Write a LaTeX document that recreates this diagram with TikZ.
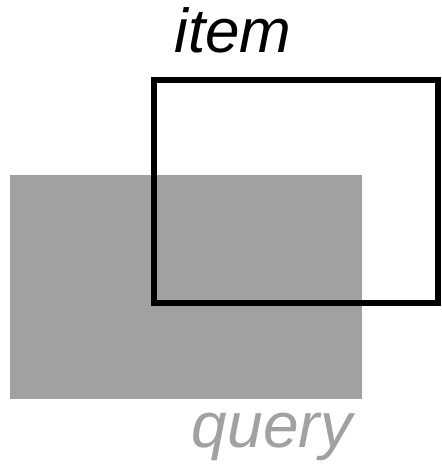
\documentclass[tikz,border=0pt]{standalone}
\usepackage{fontspec}
\setmainfont{Liberation Sans}
\definecolor{qgray}{RGB}{161,161,161}
\begin{document}
\begin{tikzpicture}[x=1pt,y=-1pt,
  label text/.style={font=\fontsize{62}{62}\selectfont\itshape, inner sep=0pt, anchor=base},
  query box/.style={fill=qgray, draw=none},
  item box/.style={draw=black, line width=6pt}]
  \useasboundingbox (0,0) rectangle (441,470);
  % query region
  \fill[query box] (10,175) rectangle (362,399);
  % item region, outlined on top
  \draw[item box] (154,80) rectangle (438,303);
  % labels
  \node[label text] (itemlabel) at (233,53) {item};
  \node[label text, text=qgray, font=\fontsize{64}{64}\selectfont\itshape] (querylabel) at (272,447) {query};
\end{tikzpicture}
\end{document}
